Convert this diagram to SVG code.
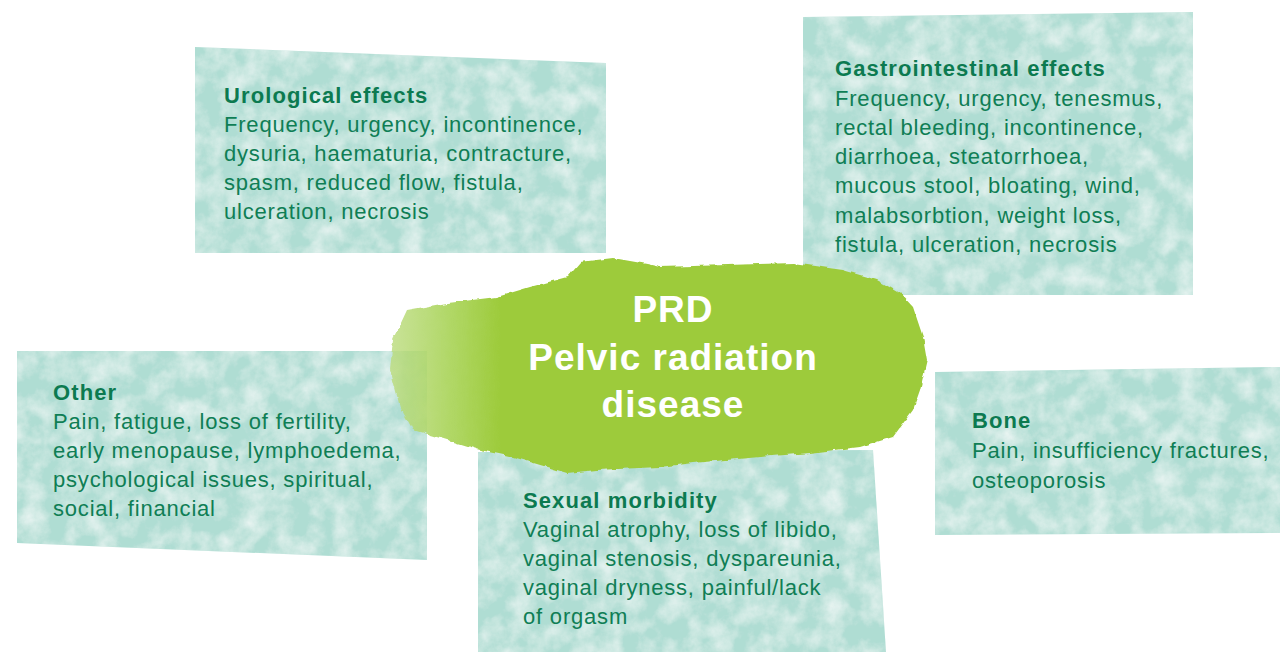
<svg xmlns="http://www.w3.org/2000/svg" width="1280" height="652" viewBox="0 0 1280 652">
<defs>
<style>
.box{fill:#afddd3}
.t{font-family:"Liberation Sans",Arial,sans-serif;font-size:22px;font-weight:bold;letter-spacing:1.1px;fill:#0c7a50}
.b{font-family:"Liberation Sans",Arial,sans-serif;font-size:22px;letter-spacing:0.8px;fill:#0f7e55}
.c{font-family:"Liberation Sans",Arial,sans-serif;font-size:37px;font-weight:bold;letter-spacing:1px;fill:#ffffff;text-anchor:middle}
</style>
<filter id="tex" x="0" y="0" width="1" height="1">
<feTurbulence type="fractalNoise" baseFrequency="0.045" numOctaves="5" seed="4" result="n"/>
<feColorMatrix in="n" type="matrix" values="0 0 0 0 1 0 0 0 0 1 0 0 0 0 1 1.1 0 0 0 -0.38" result="w"/>
<feComposite in="w" in2="SourceGraphic" operator="in" result="wc"/>
<feMerge><feMergeNode in="SourceGraphic"/><feMergeNode in="wc"/></feMerge>
</filter>
<filter id="rough" x="-5%" y="-5%" width="110%" height="110%">
<feTurbulence type="fractalNoise" baseFrequency="0.1" numOctaves="2" seed="7" result="r"/>
<feDisplacementMap in="SourceGraphic" in2="r" scale="5" xChannelSelector="R" yChannelSelector="G"/>
</filter>
<linearGradient id="blobg" gradientUnits="userSpaceOnUse" x1="388" y1="0" x2="500" y2="0">
<stop offset="0" stop-color="#bcdc80" stop-opacity="0.8"/>
<stop offset="0.55" stop-color="#aad45a" stop-opacity="0.92"/>
<stop offset="1" stop-color="#9dcb3b"/>
</linearGradient>
</defs>
<rect width="1280" height="652" fill="#ffffff"/>

<g id="urological">
<polygon class="box" filter="url(#tex)" points="195,47 606,63 606,253 195,253"/>
<text class="t" x="224" y="103">Urological effects</text>
<text class="b" x="224" y="132">Frequency, urgency, incontinence,</text>
<text class="b" x="224" y="161">dysuria, haematuria, contracture,</text>
<text class="b" x="224" y="190">spasm, reduced flow, fistula,</text>
<text class="b" x="224" y="219">ulceration, necrosis</text>
</g>

<g id="gastrointestinal">
<polygon class="box" filter="url(#tex)" points="803,17 1193,12 1193,295 803,295"/>
<text class="t" x="835" y="76">Gastrointestinal effects</text>
<text class="b" x="835" y="106">Frequency, urgency, tenesmus,</text>
<text class="b" x="835" y="135">rectal bleeding, incontinence,</text>
<text class="b" x="835" y="164">diarrhoea, steatorrhoea,</text>
<text class="b" x="835" y="193">mucous stool, bloating, wind,</text>
<text class="b" x="835" y="223">malabsorbtion, weight loss,</text>
<text class="b" x="835" y="252">fistula, ulceration, necrosis</text>
</g>

<g id="other">
<polygon class="box" filter="url(#tex)" points="17,351 427,351 427,560 17,543"/>
<text class="t" x="53" y="400">Other</text>
<text class="b" x="53" y="429">Pain, fatigue, loss of fertility,</text>
<text class="b" x="53" y="458">early menopause, lymphoedema,</text>
<text class="b" x="53" y="487">psychological issues, spiritual,</text>
<text class="b" x="53" y="516">social, financial</text>
</g>

<g id="sexual">
<polygon class="box" filter="url(#tex)" points="478,452 873,450 886,652 478,652"/>
<text class="t" x="523" y="508">Sexual morbidity</text>
<text class="b" x="523" y="537">Vaginal atrophy, loss of libido,</text>
<text class="b" x="523" y="566">vaginal stenosis, dyspareunia,</text>
<text class="b" x="523" y="595">vaginal dryness, painful/lack</text>
<text class="b" x="523" y="624">of orgasm</text>
</g>

<g id="bone">
<polygon class="box" filter="url(#tex)" points="935,372 1280,367 1280,533 935,535"/>
<text class="t" x="972" y="428">Bone</text>
<text class="b" x="972" y="458">Pain, insufficiency fractures,</text>
<text class="b" x="972" y="488">osteoporosis</text>
</g>

<g id="prd">
<polygon filter="url(#rough)" fill="url(#blobg)" points="407,310 447,303 497,297 530,287 567,277 580,262 613,258 647,264 660,267 727,265 793,263 843,270 877,280 900,293 913,307 923,337 927,360 920,390 913,410 893,437 860,447 810,453 760,457 693,463 660,467 597,470 567,473 547,467 513,457 480,450 447,440 413,430 400,407 390,370 393,340"/>
<text class="c" x="673" y="322">PRD</text>
<text class="c" x="673" y="370">Pelvic radiation</text>
<text class="c" x="673" y="417">disease</text>
</g>

<g id="connectors"/>
</svg>
